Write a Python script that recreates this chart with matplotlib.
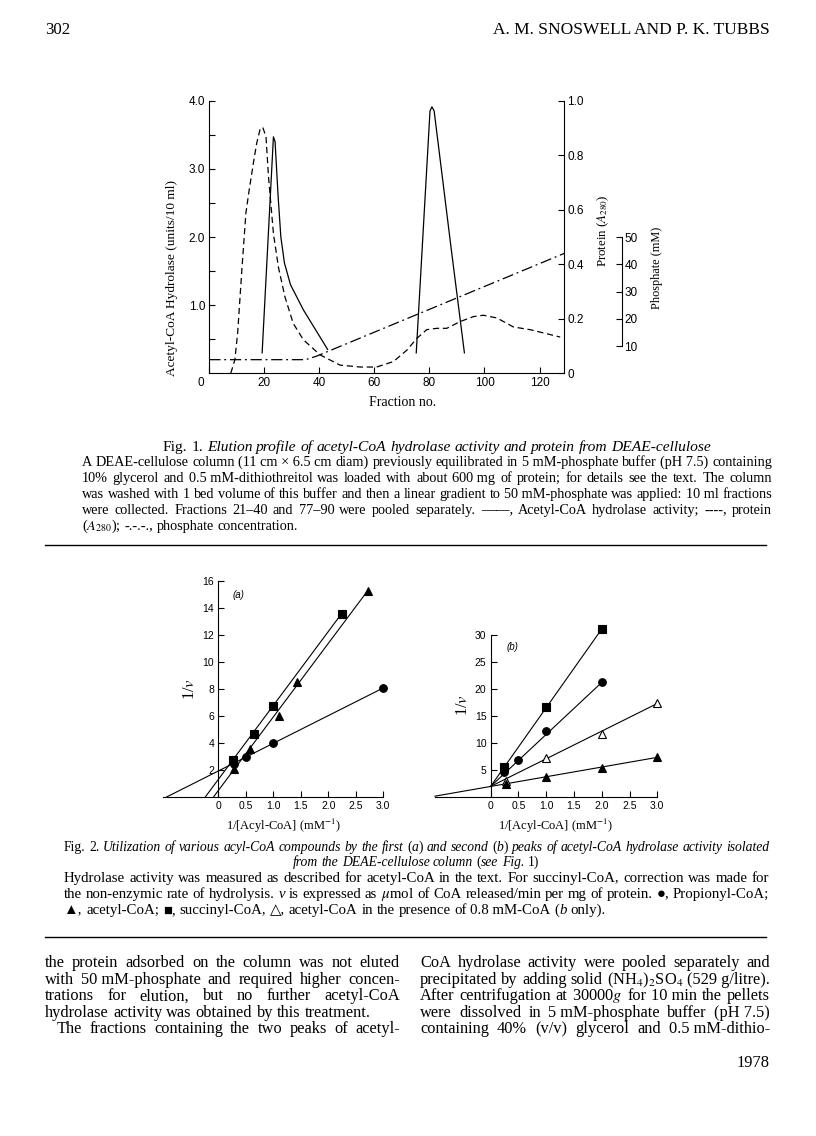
import numpy as np
import matplotlib
matplotlib.use('Agg')
import matplotlib.pyplot as plt
import matplotlib.transforms as mtransforms
from matplotlib.lines import Line2D

plt.rcParams['mathtext.fontset'] = 'stix'
SERIF = ['Liberation Serif', 'DejaVu Serif', 'DejaVu Sans']
SANS = ['Liberation Sans', 'DejaVu Sans']
plt.rcParams['font.family'] = SERIF
plt.rcParams['axes.linewidth'] = 0.8

W, H = 816, 1136

# ---------------- Fig. 1 data (elution profile)
frac_ticks = [0, 20, 40, 60, 80, 100, 120]
act_ticks = [0.5, 1.0, 1.5, 2.0, 2.5, 3.0, 3.5, 4.0]
prot_ticks = [0, 0.2, 0.4, 0.6, 0.8, 1.0]
phos_ticks = [10, 20, 30, 40, 50]

# acetyl-CoA hydrolase activity (units/10 ml), two peaks
act1_x = [19.2, 23.3, 23.9, 25.0, 26.0, 27.3, 29.5, 34.2, 43.0]
act1_y = [0.30, 3.47, 3.40, 2.60, 2.00, 1.62, 1.30, 0.93, 0.35]
act2_x = [75.2, 80.2, 80.9, 81.7, 84.8, 87.8, 92.7]
act2_y = [0.30, 3.85, 3.91, 3.85, 2.84, 1.86, 0.30]

# protein (A280)
prot_x = [7.8, 9.3, 10.3, 11.9, 13.3, 14.5, 16.0, 17.2, 18.4, 19.4, 20.6, 21.5,
          23.3, 25.1, 27.5, 30.5, 34.2, 40.2, 47.5, 54.8, 60.8, 66.9, 71.8, 75.4,
          79.0, 82.7, 86.3, 91.2, 96.0, 99.6, 104.5, 110.5, 116.6, 127.5]
prot_a280 = [0.0, 0.05, 0.148, 0.39, 0.588, 0.673, 0.77, 0.843, 0.893, 0.903, 0.868, 0.723,
             0.513, 0.39, 0.28, 0.183, 0.123, 0.068, 0.03, 0.023, 0.023, 0.043, 0.085, 0.128,
             0.16, 0.165, 0.165, 0.19, 0.208, 0.213, 0.203, 0.17, 0.16, 0.133]

# phosphate (mM)
phos_x = [0, 35, 39, 129]
phos_mm = [5, 5, 6.3, 44]

# ---------------- Fig. 2 data (double reciprocal plots)
kin_ticks = [0, 0.5, 1.0, 1.5, 2.0, 2.5, 3.0]
kin_labels = ['0', '0.5', '1.0', '1.5', '2.0', '2.5', '3.0']
a_yticks = [2, 4, 6, 8, 10, 12, 14, 16]
b_yticks = [5, 10, 15, 20, 25, 30]

# (a) first peak
a_prop_x = [0.28, 0.5, 1.0, 3.0]
a_prop_y = [2.5, 2.95, 4.0, 8.1]
a_acet_x = [0.29, 0.57, 1.1, 1.43, 2.72]
a_acet_y = [2.1, 3.55, 6.0, 8.55, 15.3]
a_succ_x = [0.26, 0.64, 1.0, 2.24]
a_succ_y = [2.8, 4.7, 6.8, 13.6]
a_slope = [2.05, 5.45, 5.48]        # propionyl, acetyl, succinyl
a_icpt = [1.95, 0.5, 1.32]

# (b) second peak
b_succ_x = [0.25, 1.0, 2.0]
b_succ_y = [5.5, 16.6, 31.1]
b_prop_x = [0.25, 0.5, 1.0, 2.0]
b_prop_y = [4.5, 6.9, 12.1, 21.2]
b_acoa_x = [0.28, 1.0, 2.0, 3.0]
b_acoa_y = [3.0, 7.1, 11.6, 17.3]
b_acet_x = [0.28, 1.0, 2.0, 3.0]
b_acet_y = [2.3, 3.6, 5.4, 7.3]
b_slope = [14.6, 9.65, 5.13, 1.8]   # succinyl, propionyl, acetyl+CoA, acetyl
b_icpt = [1.9, 1.9, 1.9, 1.9]
b_start = [0, 0, 0, -1.0]

# ---------------- texts
fig1_caption = [
    "A DEAE-cellulose column (11\u00a0cm\u00a0×\u00a06.5\u00a0cm diam) previously equilibrated in 5\u00a0mM-phosphate buffer (pH\u00a07.5) containing",
    "10% glycerol and 0.5\u00a0mM-dithiothreitol was loaded with about 600\u00a0mg of protein; for details see the text. The column",
    "was washed with 1 bed volume of this buffer and then a linear gradient to 50\u00a0mM-phosphate was applied: 10\u00a0ml fractions",
    "were collected. Fractions 21–40 and 77–90 were pooled separately. ——, Acetyl-CoA hydrolase activity; ----, protein",
    "($A_{280}$); -.-.-., phosphate concentration.",
]
fig2_caption = [
    "Hydrolase activity was measured as described for acetyl-CoA in the text. For succinyl-CoA, correction was made for",
    "the non-enzymic rate of hydrolysis. *v* is expressed as $\\mu$mol of CoA released/min per mg of protein. ●, Propionyl-CoA;",
    "▲, acetyl-CoA; ■, succinyl-CoA, △, acetyl-CoA in the presence of 0.8\u00a0mM-CoA (*b* only).",
]
body_left = [
    "the protein adsorbed on the column was not eluted",
    "with 50\u00a0mM-phosphate and required higher concen-",
    "trations for elution, but no further acetyl-CoA",
    "hydrolase activity was obtained by this treatment.",
    "The fractions containing the two peaks of acetyl-",
]
body_right = [
    "CoA hydrolase activity were pooled separately and",
    "precipitated by adding solid (NH$_4$)$_2$SO$_4$ (529\u00a0g/litre).",
    "After centrifugation at 30000$g$ for 10\u00a0min the pellets",
    "were dissolved in 5\u00a0mM-phosphate buffer (pH\u00a07.5)",
    "containing 40% (v/v) glycerol and 0.5\u00a0mM-dithio-",
]

fig = plt.figure(figsize=(W / 100, H / 100), dpi=100)
R = fig.canvas.get_renderer()


def rect(l, t, r, b):
    return [l / W, 1 - b / H, (r - l) / W, (b - t) / H]


def parse(line):
    words, cur, buf, italic = [], [], '', False
    for ch in line:
        if ch in '* ':
            if buf:
                cur.append((buf, italic))
                buf = ''
            if ch == '*':
                italic = not italic
            elif cur:
                words.append(cur)
                cur = []
        else:
            buf += ch
    if buf:
        cur.append((buf, italic))
    if cur:
        words.append(cur)
    return words


def make_words(line, size):
    out = []
    for word in parse(line):
        pieces = []
        for piece, it in word:
            t = fig.text(0, 0, piece, fontsize=size, family=SERIF,
                         fontstyle='italic' if it else 'normal', va='baseline', ha='left')
            pieces.append((t, t.get_window_extent(R).width))
        out.append(pieces)
    return out


def space_w(size):
    t1 = fig.text(0, 0, 'n n', fontsize=size, family=SERIF)
    t2 = fig.text(0, 0, 'nn', fontsize=size, family=SERIF)
    w = t1.get_window_extent(R).width - t2.get_window_extent(R).width
    t1.remove()
    t2.remove()
    return w


def natural(line, size):
    words = make_words(line, size)
    w = sum(p[1] for wd in words for p in wd) + space_w(size) * (len(words) - 1)
    for wd in words:
        for p in wd:
            p[0].remove()
    return w


def put_line(line, x, yc, size, width=None, ha='left'):
    words = make_words(line, size)
    total = sum(p[1] for wd in words for p in wd)
    if width is not None and len(words) > 1:
        gap = (width - total) / (len(words) - 1)
    else:
        gap = space_w(size)
    full = total + gap * (len(words) - 1)
    if ha == 'center':
        x -= full / 2
    elif ha == 'right':
        x -= full
    yb = yc + 0.27 * size * 100 / 72
    for wd in words:
        for t, w in wd:
            t.set_position((x / W, 1 - yb / H))
            x += w
        x += gap


def fit_size(lines, widths):
    return 10 * min(w / natural(ln, 10) for ln, w in zip(lines, widths))


def fit_text(s, x, y, length, rotation=0, ha='center', **kw):
    t = fig.text(x / W, 1 - y / H, s, fontsize=10, rotation=rotation, ha=ha,
                 va='center', **kw)
    bb = t.get_window_extent(R)
    cur = bb.height if rotation == 90 else bb.width
    t.set_fontsize(10 * length / cur)
    return t


def hrule(y, x0=45, x1=766):
    fig.add_artist(Line2D([x0 / W, x1 / W], [1 - y / H] * 2, color='k', lw=1.0))


# ---------------- page header
fit_text('302', 45, 30, 25, ha='left', family=SERIF)
fit_text('A. M. SNOSWELL AND P. K. TUBBS', 770, 30, 277, ha='right', family=SERIF)

# ---------------- Fig. 1
ax1 = fig.add_axes(rect(209.3, 100.7, 564.3, 373.3))
ax1.plot(act1_x, act1_y, color='k', lw=0.9)
ax1.plot(act2_x, act2_y, color='k', lw=0.9)
ax1.set_xlim(0, 129)
ax1.set_ylim(0, 4.0)
ax1.spines['top'].set_visible(False)
ax1.spines['right'].set_visible(False)
ax1.set_xticks(frac_ticks, [str(v) for v in frac_ticks])
ax1.set_yticks(act_ticks, ['' if v % 1 else f'{v:.1f}' for v in act_ticks])
ax1.tick_params(direction='in', length=4, width=0.8, labelsize=8.5, pad=3)
lab0 = ax1.xaxis.get_major_ticks()[0].label1
lab0.set_transform(lab0.get_transform() +
                   mtransforms.ScaledTranslation(-0.08, 0, fig.dpi_scale_trans))

axp = ax1.twinx()
axp.plot(prot_x, prot_a280, color='k', lw=0.9, dashes=(5, 3))
axp.set_ylim(0, 1.0)
axp.set_yticks(prot_ticks, ['0', '0.2', '0.4', '0.6', '0.8', '1.0'])
axp.tick_params(direction='in', length=4, width=0.8, labelsize=8.5, pad=2)

axph = ax1.twinx()
axph.plot(phos_x, phos_mm, color='k', lw=0.9, dashes=(9, 3, 1.5, 3))
axph.set_ylim(0, 100)
axph.spines['right'].set_position(('axes', (621.7 - 209.3) / (564.3 - 209.3)))
axph.spines['right'].set_bounds(10, 50)
axph.set_yticks(phos_ticks, [str(v) for v in phos_ticks])
axph.tick_params(direction='in', length=4, width=0.8, labelsize=8.5, pad=2)

for a in (axp, axph):
    for s in ('top', 'left', 'bottom'):
        a.spines[s].set_visible(False)
for a in (ax1, axp, axph):
    for lab in a.get_xticklabels() + a.get_yticklabels():
        lab.set_family(SANS)

fit_text('Acetyl-CoA Hydrolase (units/10 ml)', 172, 278, 197, rotation=90, family=SERIF)
fit_text('Fraction no.', 403, 403, 67, family=SERIF)
fit_text('Protein ($A_{280}$)', 603, 231, 72, rotation=90, family=SERIF)
fit_text('Phosphate (mM)', 657, 268, 82, rotation=90, family=SERIF)

# Fig. 1 caption
put_line('Fig. 1. *Elution profile of acetyl-CoA hydrolase activity and protein from DEAE-cellulose*',
         163, 447, fit_size(['Fig. 1. *Elution profile of acetyl-CoA hydrolase activity and protein from DEAE-cellulose*'], [550]))
s1 = fit_size(fig1_caption[:4], [690] * 4)
for i, ln in enumerate(fig1_caption):
    put_line(ln, 82, 462 + 16 * i, s1, 690 if i < 4 else None)
hrule(545)

# ---------------- Fig. 2
axa = fig.add_axes(rect(163.3, 581.3, 383.3, 797.3))
axb = fig.add_axes(rect(435.0, 635.0, 657.3, 796.7))
for ax, ymax, yt in ((axa, 16, a_yticks), (axb, 30, b_yticks)):
    ax.set_xlim(-1.0, 3.0)
    ax.set_ylim(0, ymax)
    ax.patch.set_visible(False)
    ax.spines['left'].set_position(('data', 0))
    ax.spines['top'].set_visible(False)
    ax.spines['right'].set_visible(False)
    ax.set_xticks(kin_ticks, kin_labels)
    ax.set_yticks(yt, [str(v) for v in yt])
    ax.tick_params(direction='in', length=4, width=0.8, labelsize=7.5, pad=3)
    for lab in ax.get_xticklabels() + ax.get_yticklabels():
        lab.set_family(SANS)

mk = dict(color='k', ls='none', clip_on=False, zorder=3)
a_sets = [(a_prop_x, a_prop_y, 'o', 'k', 5.5),
          (a_acet_x, a_acet_y, '^', 'k', 6),
          (a_succ_x, a_succ_y, 's', 'k', 5.5)]
for (xs, ys, m, fc, ms), sl, ic in zip(a_sets, a_slope, a_icpt):
    lx = np.array([-ic / sl, max(xs)])
    axa.plot(lx, sl * lx + ic, color='k', lw=0.8, clip_on=False)
    axa.plot(xs, ys, marker=m, mfc=fc, ms=ms, mew=0.8, **mk)

b_sets = [(b_succ_x, b_succ_y, 's', 'k', 5.5),
          (b_prop_x, b_prop_y, 'o', 'k', 5.5),
          (b_acoa_x, b_acoa_y, '^', 'w', 6),
          (b_acet_x, b_acet_y, '^', 'k', 6)]
for (xs, ys, m, fc, ms), sl, ic, x0 in zip(b_sets, b_slope, b_icpt, b_start):
    lx = np.array([x0, max(xs)])
    axb.plot(lx, sl * lx + ic, color='k', lw=0.8, clip_on=False)
    axb.plot(xs, ys, marker=m, mfc=fc, ms=ms, mew=0.8, **mk)

axa.text(0.36, 15.0, '(a)', fontsize=7, fontstyle='italic', family=SANS, ha='center', va='center')
axb.text(0.39, 27.7, '(b)', fontsize=7, fontstyle='italic', family=SANS, ha='center', va='center')

fit_text('1/$v$', 190, 689, 22, rotation=90, family=SERIF)
fit_text('1/$v$', 463, 705, 22, rotation=90, family=SERIF)
fit_text('1/[Acyl-CoA] (mM$^{-1}$)', 283, 826, 115, family=SERIF)
fit_text('1/[Acyl-CoA] (mM$^{-1}$)', 555, 826, 115, family=SERIF)

# Fig. 2 caption
t2a = 'Fig. 2. *Utilization of various acyl-CoA compounds by the first* (*a*) *and second* (*b*) *peaks of acetyl-CoA hydrolase activity isolated*'
t2b = '*from the DEAE-cellulose column* (*see Fig.* 1)'
s2t = fit_size([t2a], [705])
put_line(t2a, 64, 847, s2t, 705)
put_line(t2b, 416, 862, s2t, ha='center')
s2 = fit_size(fig2_caption[:2], [705] * 2)
for i, ln in enumerate(fig2_caption):
    put_line(ln, 64, 878 + 16 * i, s2, 705 if i < 2 else None)
hrule(937)

# ---------------- body text, two columns
body_y = [963, 979.5, 996, 1012.5, 1029]
left_just = [True, True, True, False, True]
left_ind = [0, 0, 0, 0, 12]
sb = fit_size([l for l, j in zip(body_left, left_just) if j] + body_right,
              [355 - i for i, j in zip(left_ind, left_just) if j] + [350] * 5)
for ln, y, j, ind in zip(body_left, body_y, left_just, left_ind):
    put_line(ln, 45 + ind, y, sb, (355 - ind) if j else None)
for ln, y in zip(body_right, body_y):
    put_line(ln, 420, y, sb, 350)
fit_text('1978', 770, 1063, 33, ha='right', family=SERIF)

fig.savefig('out.png', dpi=100)
